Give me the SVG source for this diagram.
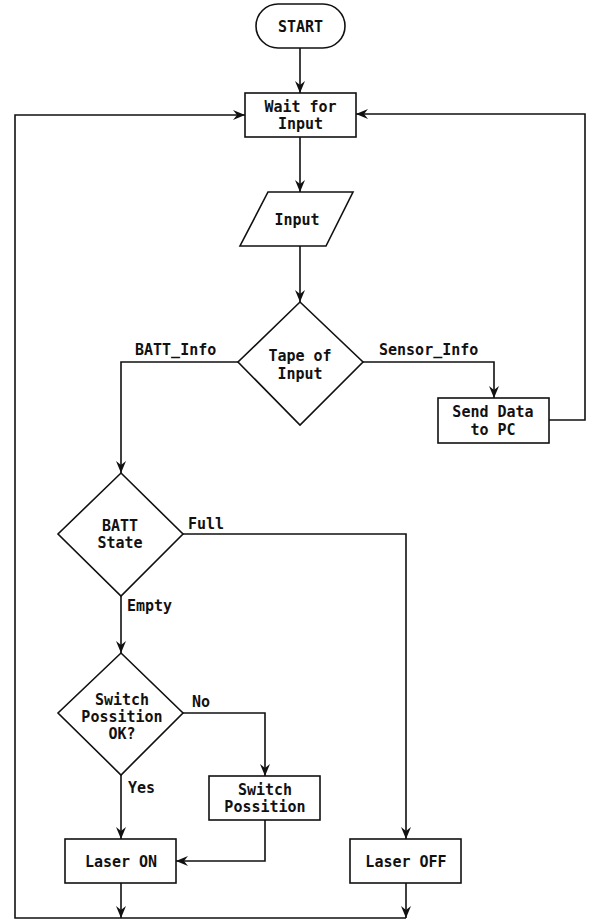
<svg xmlns="http://www.w3.org/2000/svg" width="590" height="921" viewBox="0 0 590 921">
<style>
.s{fill:#fff;stroke:#111;stroke-width:1.6}
.c{fill:none;stroke:#111;stroke-width:1.6}
.t{font-family:"DejaVu Sans Mono",monospace;font-weight:bold;font-size:15px;fill:#111;text-anchor:middle}
.l{font-family:"DejaVu Sans Mono",monospace;font-weight:bold;font-size:15px;fill:#111}
</style>
<defs>
<marker id="a" markerUnits="userSpaceOnUse" markerWidth="14" markerHeight="12" refX="12" refY="6" orient="auto">
<path d="M0,1 L12,6 L0,11 L4,6 z" fill="#111"/>
</marker>
</defs>
<g id="connectors">
<path class="c" d="M300,48 V93" marker-end="url(#a)"/>
<path class="c" d="M300,137 V192" marker-end="url(#a)"/>
<path class="c" d="M300,246 V302" marker-end="url(#a)"/>
<path class="c" d="M238,362 H121 V473" marker-end="url(#a)"/>
<path class="c" d="M363,362 H494 V398" marker-end="url(#a)"/>
<path class="c" d="M549,420 H585 V114 H356" marker-end="url(#a)"/>
<path class="c" d="M121,596 V653" marker-end="url(#a)"/>
<path class="c" d="M183,534 H406 V839" marker-end="url(#a)"/>
<path class="c" d="M121,775 V839" marker-end="url(#a)"/>
<path class="c" d="M183,713 H265 V776" marker-end="url(#a)"/>
<path class="c" d="M265,820 V861 H176" marker-end="url(#a)"/>
<path class="c" d="M121,883 V918" marker-end="url(#a)"/>
<path class="c" d="M406,883 V918" marker-end="url(#a)"/>
<path class="c" d="M406,918 H15 V115 H245" marker-end="url(#a)"/>
<text class="l" x="135" y="355">BATT_Info</text>
<text class="l" x="379" y="355">Sensor_Info</text>
<text class="l" x="188" y="529">Full</text>
<text class="l" x="127" y="611">Empty</text>
<text class="l" x="192" y="707">No</text>
<text class="l" x="128" y="793">Yes</text>
</g>
<g id="start">
<rect class="s" x="256" y="4" width="89" height="44" rx="22"/>
<text class="t" x="300.5" y="32">START</text>
</g>
<g id="wait">
<rect class="s" x="245" y="93" width="111" height="44"/>
<text class="t" x="300.5" y="112">Wait for</text>
<text class="t" x="300.5" y="129">Input</text>
</g>
<g id="input">
<polygon class="s" points="268,192 353,192 326,246 240,246"/>
<text class="t" x="297" y="225">Input</text>
</g>
<g id="tape">
<polygon class="s" points="300,302 363,362 300,425 238,362"/>
<text class="t" x="300" y="361">Tape of</text>
<text class="t" x="300" y="379">Input</text>
</g>
<g id="send">
<rect class="s" x="438" y="398" width="111" height="45"/>
<text class="t" x="493" y="417">Send Data</text>
<text class="t" x="493" y="435">to PC</text>
</g>
<g id="batt">
<polygon class="s" points="121,473 183,534 121,596 58,534"/>
<text class="t" x="120" y="531">BATT</text>
<text class="t" x="120" y="548">State</text>
</g>
<g id="switchok">
<polygon class="s" points="121,653 183,713 121,775 58,713"/>
<text class="t" x="122" y="705">Switch</text>
<text class="t" x="122" y="722">Possition</text>
<text class="t" x="122" y="739">OK?</text>
</g>
<g id="switchpos">
<rect class="s" x="209" y="776" width="111" height="44"/>
<text class="t" x="265" y="795">Switch</text>
<text class="t" x="265" y="812">Possition</text>
</g>
<g id="laseron">
<rect class="s" x="65" y="839" width="111" height="44"/>
<text class="t" x="121" y="867">Laser ON</text>
</g>
<g id="laseroff">
<rect class="s" x="350" y="839" width="111" height="44"/>
<text class="t" x="406" y="867">Laser OFF</text>
</g>
</svg>
